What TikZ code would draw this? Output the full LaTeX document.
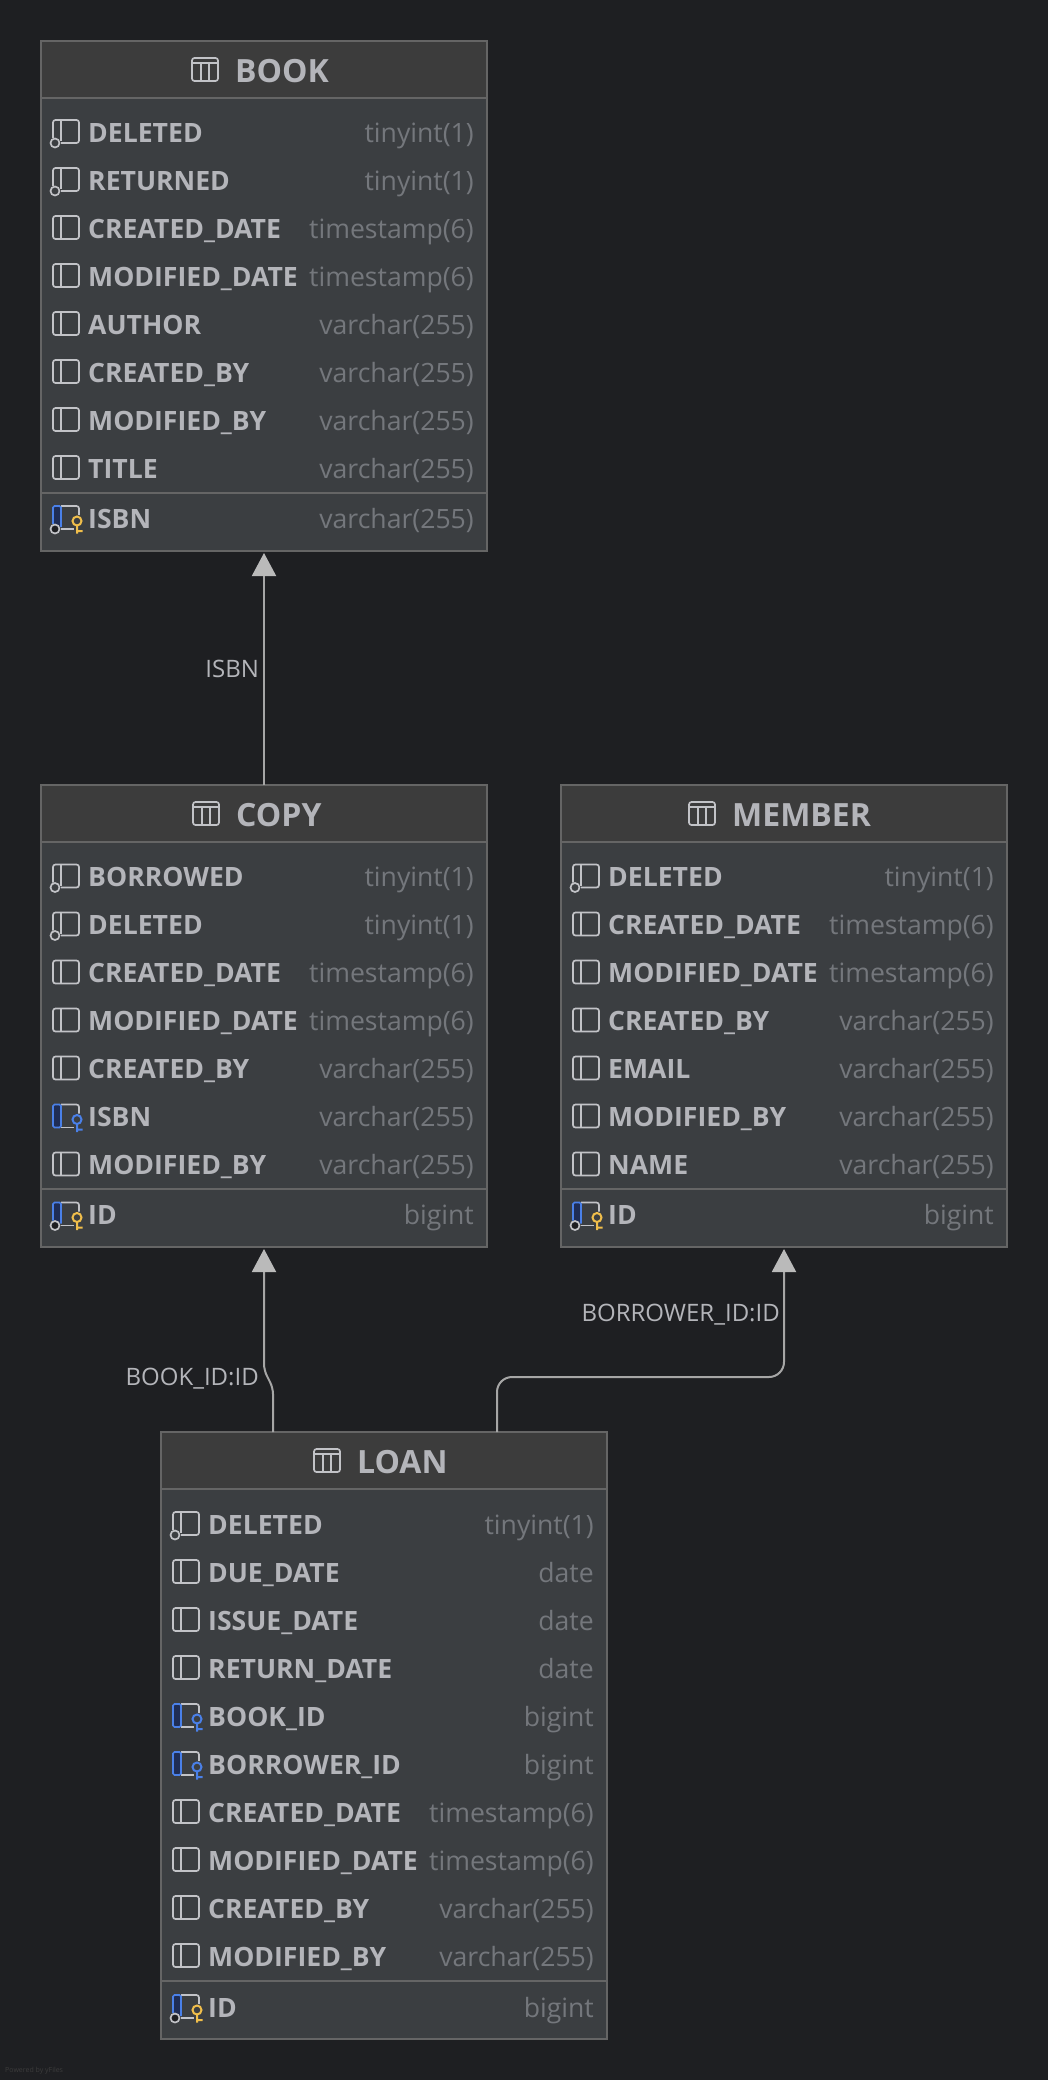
\documentclass[tikz,border=0pt]{standalone}
\usepackage{fontspec}
\setmainfont{Open Sans}
\usepackage{xcolor}
\usetikzlibrary{arrows.meta,positioning}
\catcode`\_=12
\definecolor{pagebg}{HTML}{1E1F22}
\definecolor{tablebody}{HTML}{3B3E41}
\definecolor{headfill}{HTML}{3C3C3C}
\definecolor{tableborder}{HTML}{656565}
\definecolor{nametext}{HTML}{B4B5BA}
\definecolor{typetext}{HTML}{74777C}
\definecolor{iconline}{HTML}{C2C3C7}
\definecolor{keyblue}{HTML}{4A80E8}
\definecolor{bardark}{HTML}{1F2D55}
\definecolor{keyyellow}{HTML}{F0BE4B}
\definecolor{linkgrey}{HTML}{A6A6A6}
\definecolor{tipgrey}{HTML}{BABABA}
\tikzset{
dbtable/.style={draw=tableborder, fill=tablebody, line width=1.6pt, minimum width=446pt, outer sep=0pt, inner sep=0pt},
headbar/.style={draw=tableborder, fill=headfill, line width=1.6pt},
tabletitle/.style={anchor=base west, inner sep=0pt, text=nametext, font=\fontsize{32}{36}\selectfont\bfseries},
colname/.style={anchor=base west, inner sep=0pt, text=nametext, font=\fontsize{26.6}{30}\selectfont\bfseries},
coltype/.style={anchor=base east, inner sep=0pt, text=typetext, font=\fontsize{26.6}{30}\selectfont},
linklabel/.style={inner sep=0pt, text=nametext, font=\fontsize{24}{28}\selectfont},
fklink/.style={-{Triangle[length=23pt,width=24pt,color=tipgrey]}, draw=linkgrey, line width=2pt, shorten >=2pt},
icon/.style={draw=iconline, line width=1.7pt},
colplain/.pic={
  \draw[icon, rounded corners=2.5pt] (0,-12) rectangle (26,11);
  \draw[icon] (8,-12) -- (8,11);
},
colnull/.pic={
  \draw[icon, rounded corners=2.5pt] (0,6) -- (0,-12) -- (26,-12) -- (26,11) -- (8,11);
  \draw[icon] (8,-12) -- (8,9);
  \draw[icon] (2,11) circle (4.5);
},
colpk/.pic={
  \draw[icon, rounded corners=2.5pt] (8,-12) -- (26,-12) -- (26,-3);
  \draw[icon] (8,11) -- (21,11);
  \draw[draw=keyblue, fill=bardark, line width=1.7pt, rounded corners=1.5pt] (0,6) -- (0,-12) -- (8,-12) -- (8,9);
  \draw[draw=iconline, fill=pagebg, line width=1.7pt] (2,11) circle (4.5);
  \draw[draw=keyyellow, line width=2pt] (24,3) circle (4.5) (24,7.5) -- (24,15.5) (24,13) -- (29.5,13);
},
colfk/.pic={
  \draw[icon, rounded corners=2.5pt] (8,-12) -- (26,-12) -- (26,-3);
  \draw[icon] (8,11) -- (21,11);
  \draw[draw=keyblue, fill=bardark, line width=1.7pt, rounded corners=1.5pt] (8,-12) -- (0,-12) -- (0,11) -- (8,11) -- cycle;
  \draw[draw=keyblue, line width=2pt] (24,3) circle (4.5) (24,7.5) -- (24,15.5) (24,13) -- (29.5,13);
},
tablemark/.pic={
  \draw[icon, rounded corners=2.5pt] (0,0) rectangle (26,23);
  \draw[icon] (0,5) -- (26,5) (9,5) -- (9,23) (17,5) -- (17,23);
}
}
% header band with title and mark
\newcommand{\tablehead}[3]{%
  \draw[headbar] (#1.north west) rectangle ([yshift=-57pt]#1.north east);
  \pic at ([xshift=#3pt-43pt,yshift=-17pt]#1.north west) {tablemark};
  \node[tabletitle] (#1-title) at ([xshift=#3pt,yshift=-41.5pt]#1.north west) {#2};
}
% one column row: table, offset of the row, icon, name, type
\newcommand{\colrow}[5]{%
  \pic at ([xshift=12pt,yshift=-#2pt]#1.north west) {#3};
  \node[colname] (#1-#4) at ([xshift=47pt,yshift=-#2pt-10pt]#1.north west) {#4};
  \node[coltype] (#1-#4-type) at ([xshift=-13pt,yshift=-#2pt-10pt]#1.north east) {#5};
}
\newcommand{\keyline}[2]{%
  \draw[draw=tableborder, line width=2pt] ([yshift=-#2pt]#1.north west) -- ([yshift=-#2pt]#1.north east);
}
\begin{document}
\begin{tikzpicture}[x=1pt, y=-1pt]
\fill[pagebg] (0,0) rectangle (1048,2080);
\useasboundingbox (0,0) rectangle (1048,2080);

\node[dbtable, minimum height=510pt] (book) at (264,296) {};
\node[dbtable, minimum height=462pt, below=234pt of book] (copy) {};
\node[dbtable, minimum height=462pt, right=74pt of copy] (member) {};
\node[dbtable, minimum height=607pt, below=185pt of copy, xshift=120pt] (loan) {};

\tablehead{book}{BOOK}{194}
\colrow{book}{91}{colnull}{DELETED}{tinyint(1)}
\colrow{book}{139}{colnull}{RETURNED}{tinyint(1)}
\colrow{book}{187}{colplain}{CREATED_DATE}{timestamp(6)}
\colrow{book}{235}{colplain}{MODIFIED_DATE}{timestamp(6)}
\colrow{book}{283}{colplain}{AUTHOR}{varchar(255)}
\colrow{book}{331}{colplain}{CREATED_BY}{varchar(255)}
\colrow{book}{379}{colplain}{MODIFIED_BY}{varchar(255)}
\colrow{book}{427}{colplain}{TITLE}{varchar(255)}
\keyline{book}{452}
\colrow{book}{477}{colpk}{ISBN}{varchar(255)}

\tablehead{copy}{COPY}{195}
\colrow{copy}{91.5}{colnull}{BORROWED}{tinyint(1)}
\colrow{copy}{139.5}{colnull}{DELETED}{tinyint(1)}
\colrow{copy}{187.5}{colplain}{CREATED_DATE}{timestamp(6)}
\colrow{copy}{235.5}{colplain}{MODIFIED_DATE}{timestamp(6)}
\colrow{copy}{283.5}{colplain}{CREATED_BY}{varchar(255)}
\colrow{copy}{331.5}{colfk}{ISBN}{varchar(255)}
\colrow{copy}{379.5}{colplain}{MODIFIED_BY}{varchar(255)}
\keyline{copy}{404}
\colrow{copy}{429.5}{colpk}{ID}{bigint}

\tablehead{member}{MEMBER}{171}
\colrow{member}{91.5}{colnull}{DELETED}{tinyint(1)}
\colrow{member}{139.5}{colplain}{CREATED_DATE}{timestamp(6)}
\colrow{member}{187.5}{colplain}{MODIFIED_DATE}{timestamp(6)}
\colrow{member}{235.5}{colplain}{CREATED_BY}{varchar(255)}
\colrow{member}{283.5}{colplain}{EMAIL}{varchar(255)}
\colrow{member}{331.5}{colplain}{MODIFIED_BY}{varchar(255)}
\colrow{member}{379.5}{colplain}{NAME}{varchar(255)}
\keyline{member}{404}
\colrow{member}{429.5}{colpk}{ID}{bigint}

\tablehead{loan}{LOAN}{196}
\colrow{loan}{92}{colnull}{DELETED}{tinyint(1)}
\colrow{loan}{140}{colplain}{DUE_DATE}{date}
\colrow{loan}{188}{colplain}{ISSUE_DATE}{date}
\colrow{loan}{236}{colplain}{RETURN_DATE}{date}
\colrow{loan}{284}{colfk}{BOOK_ID}{bigint}
\colrow{loan}{332}{colfk}{BORROWER_ID}{bigint}
\colrow{loan}{380}{colplain}{CREATED_DATE}{timestamp(6)}
\colrow{loan}{428}{colplain}{MODIFIED_DATE}{timestamp(6)}
\colrow{loan}{476}{colplain}{CREATED_BY}{varchar(255)}
\colrow{loan}{524}{colplain}{MODIFIED_BY}{varchar(255)}
\keyline{loan}{549}
\colrow{loan}{575}{colpk}{ID}{bigint}

\draw[fklink] (copy.north) -- node[linklabel, midway, left=4pt, yshift=-1pt] (isbnlabel) {ISBN} (book.south);
\draw[fklink, rounded corners=6pt] ([xshift=-111pt]loan.north) -- ++(0,-44) -- ++(-9,-18) -- (copy.south);
\draw[fklink, rounded corners=15pt] ([xshift=113pt]loan.north) -- ++(0,-55) -| (member.south);
\node[linklabel, anchor=east] (bookidlabel) at ([xshift=-5pt,yshift=-131.5pt]copy.south) {BOOK_ID:ID};
\node[linklabel, anchor=east] (borrowerlabel) at ([xshift=-4pt,yshift=-67.5pt]member.south) {BORROWER_ID:ID};
\node[anchor=west, inner sep=0pt, text=headfill, font=\fontsize{7}{8}\selectfont] (poweredby) at (5,2071) {Powered by yFiles};
\end{tikzpicture}
\end{document}
